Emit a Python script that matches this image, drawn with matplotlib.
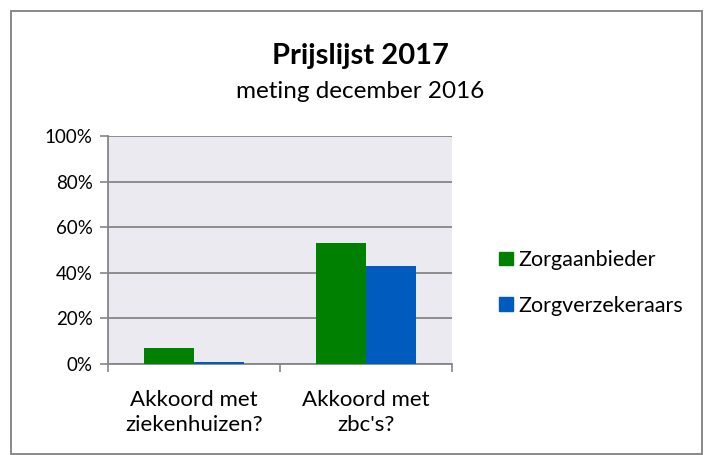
import numpy as np
import matplotlib.pyplot as plt
from matplotlib.patches import Rectangle, Patch
from matplotlib.ticker import FuncFormatter, FixedLocator

plt.rcParams['font.family'] = ['Lato', 'DejaVu Sans']

# data
categories = ['Akkoord met\nziekenhuizen?', "Akkoord met\nzbc's?"]
zorgaanbieder = [0.07, 0.53]
zorgverzekeraars = [0.01, 0.43]
series_names = ['Zorgaanbieder', 'Zorgverzekeraars']
colors = ['#008000', '#005BBF']

grid_col = '#868686'

fig = plt.figure(figsize=(7.12, 4.55), dpi=100)
ax = fig.add_axes([0.1517, 0.2, 0.4831, 0.5011])
ax.set_facecolor('#EBEAF1')

x = np.arange(len(categories))
w = 0.29
ax.bar(x - w / 2, zorgaanbieder, w, color=colors[0], zorder=3)
ax.bar(x + w / 2, zorgverzekeraars, w, color=colors[1], zorder=3)

ax.set_xlim(-0.5, len(categories) - 0.5)
ax.set_ylim(0, 1)

# y axis
ax.set_yticks(np.arange(0, 1.01, 0.2))
ax.yaxis.set_major_formatter(FuncFormatter(lambda v, p: f'{v*100:.0f}%'))
ax.yaxis.grid(True, color=grid_col, linewidth=1.3, zorder=0)
ax.tick_params(axis='y', direction='out', length=6, width=1.2, color=grid_col,
               labelsize=13.5, pad=5)

# x axis: ticks at category boundaries, labels in centre
ax.xaxis.set_major_locator(FixedLocator(np.arange(-0.5, len(categories), 1)))
ax.set_xticklabels([])
ax.xaxis.set_minor_locator(FixedLocator(x))
ax.set_xticklabels(categories, minor=True, fontsize=16, linespacing=1.3)
ax.tick_params(axis='x', which='major', direction='out', length=6, width=1.2, color=grid_col)
ax.tick_params(axis='x', which='minor', length=0, pad=19)

for s in ['top', 'right']:
    ax.spines[s].set_visible(False)
for s in ['left', 'bottom']:
    ax.spines[s].set_color(grid_col)
    ax.spines[s].set_linewidth(1.3)

# titles
fig.text(0.506, 0.877, 'Prijslijst 2017', ha='center', va='center',
         fontsize=21, fontweight='bold')
fig.text(0.506, 0.800, 'meting december 2016', ha='center', va='center', fontsize=17.5)

# legend
handles = [Patch(facecolor=c, edgecolor=c) for c in colors]
fig.legend(handles, series_names, loc='center left', bbox_to_anchor=(0.689, 0.378),
           frameon=False, fontsize=15.5, handlelength=0.62, handleheight=0.62,
           handletextpad=0.25, labelspacing=1.2, borderaxespad=0)

# outer frame
fig.patches.append(Rectangle((11 / 712, 0.002), 691 / 712, 0.974, transform=fig.transFigure,
                             fill=False, edgecolor='#808080', linewidth=1.3))

fig.savefig('out.png', dpi=100)
